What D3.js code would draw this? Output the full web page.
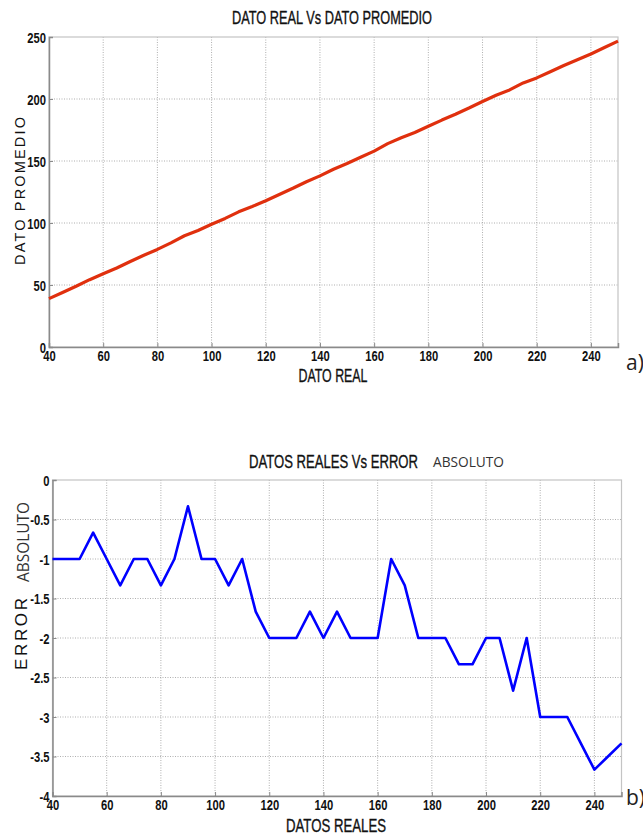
<!DOCTYPE html>
<html>
<head>
<meta charset="utf-8">
<script src="https://cdn.jsdelivr.net/npm/d3@7"></script>
<style>
  body { margin: 0; background: #fff; }
  svg text { fill: #111; }
</style>
</head>
<body>
<svg id="chart" width="643" height="835"></svg>
<script>
// values
var datoReal = [40, 45, 50, 55, 60, 65, 70, 75, 80, 85, 90, 95, 100, 105, 110, 115, 120, 125, 130, 135, 140,
    145, 150, 155, 160, 165, 170, 175, 180, 185, 190, 195, 200, 205, 210, 215, 220, 225, 230, 235, 240, 245, 250];
var datoPromedio = [39, 44, 49, 54.3, 59, 63.7, 69, 74, 78.7, 84, 89.7, 94, 99, 103.7, 109, 113.3, 118, 123, 128,
    133.3, 138, 143.3, 148, 153, 158, 164, 168.7, 173, 178, 183, 187.7, 192.7, 198, 203, 207.3, 213, 217, 222, 227,
    231.7, 236.3, 241.5, 246.7];
var errorAbs = [-1, -1, -1, -0.667, -1, -1.333, -1, -1, -1.333, -1, -0.333, -1, -1, -1.333, -1, -1.667, -2, -2, -2,
    -1.667, -2, -1.667, -2, -2, -2, -1, -1.333, -2, -2, -2, -2.333, -2.333, -2, -2, -2.667, -2, -3, -3, -3,
    -3.333, -3.667, -3.5, -3.333];
var xTicks = [40, 60, 80, 100, 120, 140, 160, 180, 200, 220, 240];
var yTicksA = [0, 50, 100, 150, 200, 250];
var yTicksB = [0, -0.5, -1, -1.5, -2, -2.5, -3, -3.5, -4];

var SANS = '"Liberation Sans", Arial, sans-serif';
var LIGHT = '"Open Sans", "Noto Sans", sans-serif';

var svg = d3.select('#chart');

// squeeze text horizontally so it looks like a narrow font
function narrow(sel, k) {
    sel.each(function () {
        var w = this.getComputedTextLength();
        d3.select(this).attr('textLength', w * k).attr('lengthAdjust', 'spacingAndGlyphs');
    });
}

function label(x, y, txt, size, len, opts) {
    opts = opts || {};
    var t = svg.append('text')
        .attr('transform', 'translate(' + x + ',' + y + ')' + (opts.rotate ? ' rotate(-90)' : ''))
        .attr('text-anchor', opts.anchor || 'middle')
        .style('font-family', opts.font || SANS)
        .style('font-size', size + 'px')
        .style('fill', opts.fill || '#111')
        .text(txt);
    if (opts.heavy) t.style('stroke', opts.fill || '#111').style('stroke-width', 0.35);
    if (len) t.attr('textLength', len).attr('lengthAdjust', opts.adjust || 'spacingAndGlyphs');
    return t;
}

function panel(opt) {
    var x = d3.scaleLinear().domain([40, 250]).range([opt.left, opt.right]);
    var y = d3.scaleLinear().domain(opt.yDomain).range([opt.bottom, opt.top]);
    var g = svg.append('g');

    // dotted grid
    g.selectAll('.vg').data(xTicks.slice(1))
        .enter().append('line')
        .attr('x1', function (d) { return x(d); }).attr('x2', function (d) { return x(d); })
        .attr('y1', opt.top).attr('y2', opt.bottom)
        .style('stroke', '#9a9a9a').style('stroke-width', 0.8).style('stroke-dasharray', '1,1.5');
    g.selectAll('.hg').data(opt.yTicks.filter(function (d) { return d !== opt.yDomain[0] && d !== opt.yDomain[1]; }))
        .enter().append('line')
        .attr('y1', function (d) { return y(d); }).attr('y2', function (d) { return y(d); })
        .attr('x1', opt.left).attr('x2', opt.right)
        .style('stroke', '#9a9a9a').style('stroke-width', 0.8).style('stroke-dasharray', '1,1.5');

    // box
    g.append('rect')
        .attr('x', opt.left).attr('y', opt.top)
        .attr('width', opt.right - opt.left).attr('height', opt.bottom - opt.top)
        .style('fill', 'none').style('stroke', '#c4c4c4').style('stroke-width', 1.2);

    var xAxis = d3.axisBottom(x).tickValues(xTicks).tickSize(-4).tickPadding(4);
    var yAxis = d3.axisLeft(y).tickValues(opt.yTicks).tickSize(-4).tickPadding(3)
        .tickFormat(function (d) { return String(d); });

    var gx = g.append('g').attr('transform', 'translate(0,' + opt.bottom + ')').call(xAxis);
    var gy = g.append('g').attr('transform', 'translate(' + opt.left + ',0)').call(yAxis);
    [gx, gy].forEach(function (a) {
        a.select('.domain').style('stroke', '#8a8a8a').style('stroke-width', 1.5);
        a.selectAll('.tick line').style('stroke', '#8a8a8a');
        a.selectAll('.tick text')
            .style('font-family', SANS).style('font-size', '14px').style('font-weight', 'bold')
            .style('fill', '#111')
            .call(narrow, 0.8);
    });
    gy.selectAll('.tick text').attr('dy', '0.36em');
    gx.selectAll('.tick text').attr('dy', '0.72em');

    var line = d3.line()
        .x(function (d, i) { return x(datoReal[i]); })
        .y(function (d) { return y(d); });
    g.append('path')
        .datum(opt.values)
        .attr('d', line)
        .style('fill', 'none')
        .style('stroke', opt.color)
        .style('stroke-width', opt.width)
        .style('stroke-linejoin', 'round');
    return g;
}

// a) DATO REAL vs DATO PROMEDIO
panel({ left: 49, right: 618, top: 37, bottom: 347, yDomain: [0, 250], yTicks: yTicksA,
    values: datoPromedio, color: '#e0300e', width: 3.2 });

label(332, 24, 'DATO REAL Vs DATO PROMEDIO', 18, 200, { heavy: true });
label(333, 382, 'DATO REAL', 18, 69, { heavy: true });
label(25, 191, 'DATO PROMEDIO', 14.5, 148, { rotate: true, adjust: 'spacing' });
label(626, 370, 'a)', 21, null, { anchor: 'start', font: LIGHT, fill: '#222' });

// b) DATOS REALES vs ERROR ABSOLUTO
panel({ left: 52.5, right: 621.5, top: 480, bottom: 796, yDomain: [-4, 0], yTicks: yTicksB,
    values: errorAbs, color: '#0000ff', width: 2.6 });

label(249, 468, 'DATOS REALES Vs ERROR', 18, 169, { anchor: 'start', heavy: true });
label(433, 467, 'ABSOLUTO', 15, 71, { anchor: 'start', font: LIGHT, fill: '#333' });
label(336, 832, 'DATOS REALES', 18, 100, { heavy: true });
label(27, 634, 'ERROR', 17, 72, { rotate: true, adjust: 'spacing' });
label(29, 542, 'ABSOLUTO', 16, 80, { rotate: true, font: LIGHT, fill: '#333' });
label(626, 805, 'b)', 21, null, { anchor: 'start', font: LIGHT, fill: '#222' });
</script>
</body>
</html>
